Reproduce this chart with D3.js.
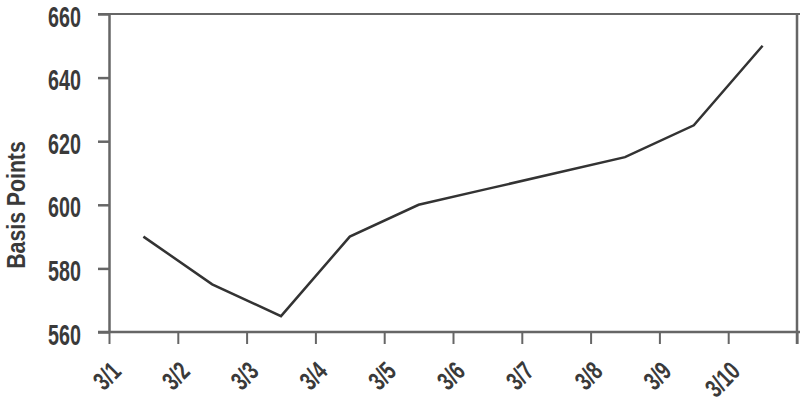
<!DOCTYPE html>
<html>
<head>
<meta charset="utf-8">
<script src="https://cdn.jsdelivr.net/npm/d3@7/dist/d3.min.js"></script>
<style>
  html, body { margin: 0; padding: 0; background: #fff; }
  svg { display: block; }
  .lbl { font-family: "Liberation Sans", Arial, sans-serif; fill: #3a3a3a; font-weight: bold; }
</style>
</head>
<body>
<svg id="chart" width="800" height="404"></svg>
<script>
const categories = ["3/1", "3/2", "3/3", "3/4", "3/5", "3/6", "3/7", "3/8", "3/9", "3/10"];
const values = [590, 575, 565, 590, 600, 605, 610, 615, 625, 650];
const yTicks = [560, 580, 600, 620, 640, 660];
const yTitle = "Basis Points";

const svg = d3.select("#chart");
const mLeft = 109, mRight = 797, mTop = 14, mBottom = 332;
const axisColor = "#666";

const x = d3.scaleLinear().domain([0, categories.length]).range([mLeft, mRight]);
const y = d3.scaleLinear().domain([560, 660]).range([mBottom, mTop]);

// Top border (660 line) and right border
svg.append("line")
  .attr("x1", mLeft - 11).attr("x2", 800)
  .attr("y1", y(660)).attr("y2", y(660))
  .attr("stroke", axisColor).attr("stroke-width", 2);
svg.append("line")
  .attr("x1", x(categories.length)).attr("x2", x(categories.length))
  .attr("y1", y(660)).attr("y2", mBottom + 12)
  .attr("stroke", axisColor).attr("stroke-width", 2.5);

// Y axis
const yAxis = svg.append("g")
  .attr("transform", `translate(${mLeft},0)`)
  .call(d3.axisLeft(y).tickValues(yTicks).tickSize(11).tickSizeOuter(0));
yAxis.select(".domain").attr("stroke", axisColor).attr("stroke-width", 2.5);
yAxis.selectAll(".tick line").attr("stroke", axisColor).attr("stroke-width", 2.5);
yAxis.selectAll(".tick text")
  .attr("class", "lbl")
  .style("font-size", "29px")
  .attr("x", 0).attr("dy", null)
  .attr("text-anchor", "end")
  .attr("transform", "translate(-28,12) scale(0.68,1)");

// X axis
const xAxis = svg.append("g")
  .attr("transform", `translate(0,${mBottom})`)
  .call(d3.axisBottom(x).tickValues(d3.range(categories.length + 1))
    .tickFormat(i => categories[i] || "").tickSize(12).tickSizeOuter(0));
xAxis.select(".domain").remove();
xAxis.append("line")
  .attr("x1", mLeft - 11).attr("x2", 800)
  .attr("stroke", axisColor).attr("stroke-width", 2.5);
xAxis.selectAll(".tick line").attr("stroke", axisColor).attr("stroke-width", 2);
xAxis.selectAll(".tick text")
  .attr("class", "lbl")
  .style("font-size", "26px")
  .attr("text-anchor", "end")
  .attr("dy", null)
  .attr("y", null)
  .attr("transform", "translate(13,41) rotate(-45) scale(0.72,1)");

// Y title
svg.append("text")
  .attr("class", "lbl")
  .attr("transform", `translate(25,205) rotate(-90) scale(0.85,1)`)
  .attr("text-anchor", "middle")
  .style("font-size", "25px")
  .text(yTitle);

// Line
const line = d3.line()
  .x((d, i) => x(i + 0.5))
  .y(d => y(d));
svg.append("path")
  .datum(values)
  .attr("d", line)
  .attr("fill", "none")
  .attr("stroke", "#333")
  .attr("stroke-width", 2.5)
  .attr("stroke-linejoin", "miter");
</script>
</body>
</html>
